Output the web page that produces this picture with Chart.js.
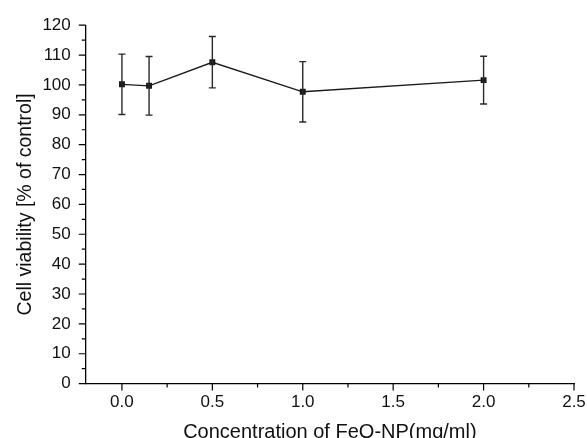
<!DOCTYPE html>
<html>
<head>
<meta charset="utf-8">
<script src="https://cdn.jsdelivr.net/npm/chart.js@4.4.1/dist/chart.umd.min.js"></script>
<style>
  html, body { margin: 0; padding: 0; background: #fff; }
  #wrap { width: 587px; height: 438px; }
</style>
</head>
<body>
<div id="wrap"><canvas id="viabilityChart" width="587" height="438"></canvas></div>
<script>
// concentration of FeO-NP (mg/ml)
const concentrations = [0, 0.15, 0.5, 1.0, 2.0];
// cell viability, % of control
const viability = [100.2, 99.7, 107.6, 97.7, 101.6];
// error bar half-heights
const errors = [10.1, 9.8, 8.6, 10.1, 8.0];

const xTicks = [0, 0.5, 1.0, 1.5, 2.0, 2.5];
const yTicks = [0, 10, 20, 30, 40, 50, 60, 70, 80, 90, 100, 110, 120];

const FONT = "'Liberation Sans', Arial, sans-serif";

// error bars + outward tick marks (major and minor)
const extrasPlugin = {
  id: "extras",
  afterDatasetsDraw(chart) {
    const ctx = chart.ctx;
    const xs = chart.scales.x;
    const ys = chart.scales.y;
    ctx.save();
    ctx.strokeStyle = "#2a2a2a";
    ctx.lineWidth = 1.4;
    concentrations.forEach((c, i) => {
      const px = xs.getPixelForValue(c);
      const top = ys.getPixelForValue(viability[i] + errors[i]);
      const bot = ys.getPixelForValue(viability[i] - errors[i]);
      ctx.beginPath();
      ctx.moveTo(px, top);
      ctx.lineTo(px, bot);
      ctx.moveTo(px - 3.5, top);
      ctx.lineTo(px + 3.5, top);
      ctx.moveTo(px - 3.5, bot);
      ctx.lineTo(px + 3.5, bot);
      ctx.stroke();
    });
    ctx.restore();
  },
  afterDraw(chart) {
    const ctx = chart.ctx;
    const xs = chart.scales.x;
    const ys = chart.scales.y;
    const area = chart.chartArea;
    ctx.save();
    ctx.strokeStyle = "#000";
    ctx.lineWidth = 1.2;
    ctx.beginPath();
    yTicks.forEach((v, i) => {
      const py = ys.getPixelForValue(v);
      ctx.moveTo(area.left - 7, py);
      ctx.lineTo(area.left, py);
      if (i < yTicks.length - 1) {
        const pm = ys.getPixelForValue((v + yTicks[i + 1]) / 2);
        ctx.moveTo(area.left - 4, pm);
        ctx.lineTo(area.left, pm);
      }
    });
    xTicks.forEach((v, i) => {
      const px = xs.getPixelForValue(v);
      ctx.moveTo(px, area.bottom);
      ctx.lineTo(px, area.bottom + 7);
      if (i < xTicks.length - 1) {
        const pm = xs.getPixelForValue((v + xTicks[i + 1]) / 2);
        ctx.moveTo(pm, area.bottom);
        ctx.lineTo(pm, area.bottom + 4);
      }
    });
    ctx.stroke();
    ctx.restore();
  }
};

const ctx = document.getElementById("viabilityChart").getContext("2d");

new Chart(ctx, {
  type: "scatter",
  data: {
    datasets: [
      {
        data: concentrations.map((c, i) => ({ x: c, y: viability[i] })),
        showLine: true,
        borderColor: "#1a1a1a",
        borderWidth: 1.4,
        backgroundColor: "#1a1a1a",
        pointStyle: "rect",
        pointRadius: 4.2,
        pointBorderWidth: 0,
        tension: 0,
      },
    ],
  },
  options: {
    responsive: false,
    animation: false,
    layout: {
      padding: { top: 11, right: 0, left: 14, bottom: -6 },
    },
    plugins: {
      legend: { display: false },
      tooltip: { enabled: false },
    },
    scales: {
      x: {
        type: "linear",
        min: -0.2,
        max: 2.5,
        afterBuildTicks: (scale) => {
          scale.ticks = xTicks.map((v) => ({ value: v }));
        },
        afterFit: (scale) => {
          // room for the half "2.5" label only
          scale.paddingRight = 13;
        },
        grid: { display: false, drawTicks: false },
        border: { display: true, color: "#000", width: 1.3 },
        ticks: {
          color: "#111",
          font: { family: FONT, size: 17 },
          padding: 9,
          maxRotation: 0,
          callback: (v) => Number(v).toFixed(1),
        },
        title: {
          display: true,
          text: "Concentration of FeO-NP(mg/ml)",
          color: "#111",
          font: { family: FONT, size: 20 },
          padding: { top: -2, bottom: 0 },
        },
      },
      y: {
        type: "linear",
        min: 0,
        max: 120,
        afterBuildTicks: (scale) => {
          scale.ticks = yTicks.map((v) => ({ value: v }));
        },
        grid: { display: false, drawTicks: false },
        border: { display: true, color: "#000", width: 1.3 },
        ticks: {
          color: "#111",
          font: { family: FONT, size: 17 },
          padding: 15,
        },
        title: {
          display: true,
          text: "Cell viability [% of control]",
          color: "#111",
          font: { family: FONT, size: 19.5 },
          padding: { top: 0, bottom: -10 },
        },
      },
    },
  },
  plugins: [extrasPlugin],
});
</script>
</body>
</html>
